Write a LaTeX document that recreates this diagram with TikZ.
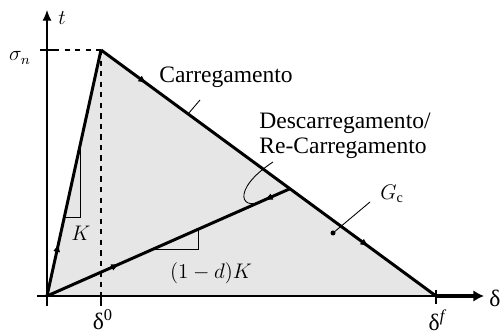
\documentclass[tikz,border=0pt]{standalone}
\usepackage{fontspec}
\setmainfont{Liberation Serif}
\usetikzlibrary{calc, arrows.meta, decorations.markings}
\definecolor{Dark}{HTML}{000000}
\definecolor{Area}{HTML}{E6E6E6}
\tikzset{
    textnode/.style={font=\fontsize{13.4}{14.5}\selectfont, inner sep=0pt, align=left},
    mathnode/.style={font=\fontsize{11.5}{13}\selectfont, inner sep=0pt},
    pathline/.style={line width=1.7pt, color=Dark},
    axis/.style={line width=0.6pt, color=Dark},
    guide/.style={dashed, line width=0.6pt, color=Dark},
    leader/.style={line width=0.5pt, color=Dark},
    midarrow/.style={postaction={decorate, decoration={markings, mark=at position #1 with {\arrow{Latex[length=5pt,width=4pt]}}}}},
    backarrow/.style={postaction={decorate, decoration={markings, mark=at position #1 with {\arrow{Latex[length=5pt,width=4pt,reversed]}}}}},
}
\begin{document}
\begin{tikzpicture}[x=0.02cm, y=-0.02cm]
    \useasboundingbox (0,0) rectangle (500,333);
    % Pontos principais
    \coordinate (O) at (47,296);
    \coordinate (P) at (101,50);
    \coordinate (F) at (436,296);
    \coordinate (U) at ($(P)!0.564!(F)$);

    % Area G_c
    \fill[Area] (O) -- (P) -- (F) -- cycle;

    % Eixos
    \coordinate (tbot) at (47,306);
    \coordinate (ttop) at (47,10);
    \draw[axis, -{Latex[length=6pt,width=5pt]}] (tbot) -- (ttop);
    \coordinate (dleft) at (37,296);
    \coordinate (dtip) at (484,296);
    \draw[axis] (dleft) -- (F);
    \draw[line width=2.2pt, -{Latex[length=6pt,width=6.5pt]}] (F) -- (dtip);

    % Linhas guia e marcas
    \coordinate (stick) at (40,50);
    \coordinate (send) at (54,50);
    \draw[axis] (stick) -- (send);
    \draw[guide] (send) -- (P);
    \coordinate (D0) at (101,296);
    \coordinate (D0tick) at (101,306);
    \draw[guide] (P) -- (D0);
    \draw[axis] (D0) -- (D0tick);
    \coordinate (DFtop) at (436,290);
    \coordinate (DFbot) at (436,304);
    \draw[axis] (DFtop) -- (DFbot);

    % Rotulos dos eixos
    \node[mathnode] (tlbl) at (62,18) {$t$};
    \node[mathnode] (snlbl) at (20,58) {$\sigma_n$};
    \node[textnode] (d0lbl) at (103,320) {δ\textsuperscript{0}};
    \node[textnode] (dflbl) at (437,320) {δ\textsuperscript{\itshape f}};
    \node[textnode, anchor=west] (dlbl) at (489,298) {δ};

    % Carregamento / descarregamento
    \draw[pathline, midarrow=0.215] (O) -- (P);
    \draw[pathline, midarrow=0.137, midarrow=0.8] (P) -- (F);
    \draw[pathline, midarrow=0.30, backarrow=0.926] (O) -- (U);

    % Triangulos de rigidez
    \coordinate (Ka) at ($(O)!0.62!(P)$);
    \coordinate (Kb) at ($(O)!0.318!(P)$);
    \draw[leader] (Ka) -- (Ka |- Kb) -- (Kb);
    \node[mathnode] (klbl) at (81,233) {$K$};
    \coordinate (La) at ($(O)!0.43!(U)$);
    \coordinate (Lb) at ($(O)!0.624!(U)$);
    \draw[leader] (La) -- (Lb |- La) -- (Lb);
    \node[mathnode] (dklbl) at (211,273) {$(1-d)K$};

    % Legendas
    \node[textnode] (carr) at (226,77) {Carregamento};
    \coordinate (Ca) at ($(P)!0.26!(F)$);
    \coordinate (Cb) at (200,100);
    \draw[leader] (Ca) -- (Cb);
    \node[textnode, anchor=west] (desc) at (259,136) {Descarregamento/\\Re-Carregamento};
    \coordinate (Ds) at (273,162);
    \coordinate (Us) at ($(O)!0.91!(U)$);
    \draw[leader] (Ds) .. controls (230,190) and (240,215) .. (Us);
    \coordinate (Gdot) at (333,233);
    \coordinate (Gend) at (370,202);
    \fill[Dark] (Gdot) circle (2.5);
    \draw[leader] (Gdot) -- (Gend);
    \node[mathnode] (gclbl) at (392,194) {$G_{\mathrm{c}}$};
\end{tikzpicture}
\end{document}
